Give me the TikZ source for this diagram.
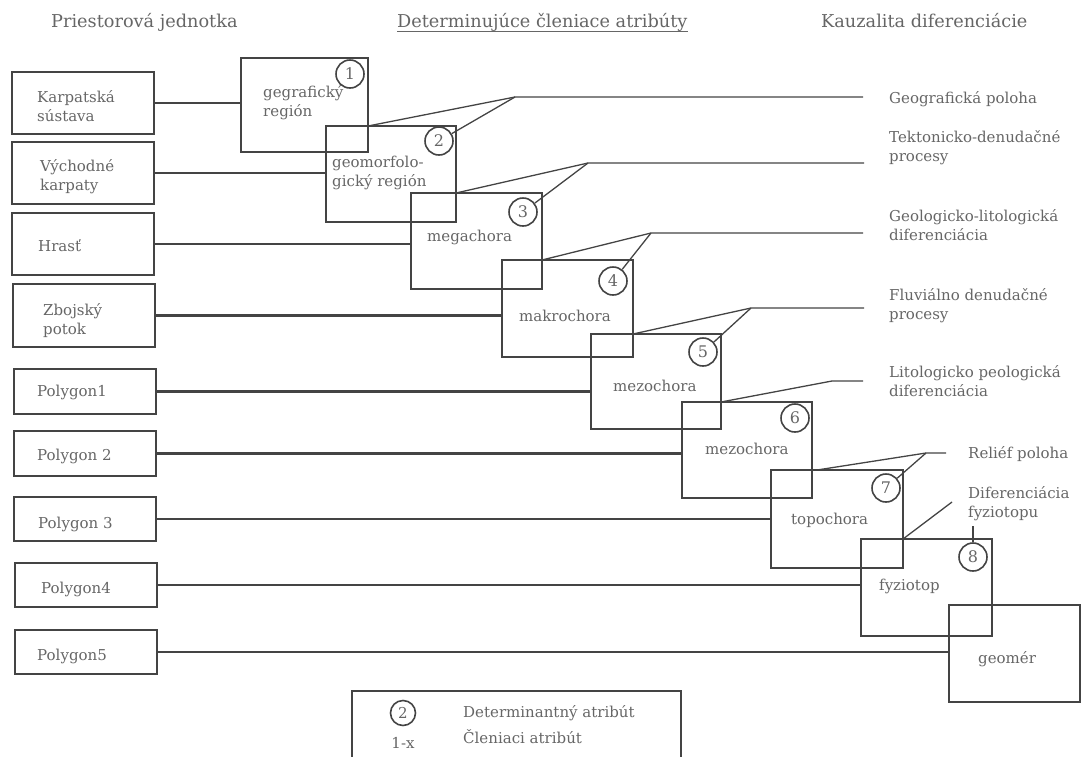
\documentclass[tikz,border=0pt]{standalone}
\usepackage{fontspec}
\setmainfont{DejaVu Serif}
\usetikzlibrary{calc}
\definecolor{ink}{HTML}{444444}
\definecolor{txt}{HTML}{666666}
\newcommand\twol[2]{\vtop{\hbox{#1}\hbox{#2}}}
\begin{document}
\begin{tikzpicture}[x=1pt,y=-1pt,
  box/.style={draw=ink,line width=2.8pt,outer sep=0pt,inner sep=0pt,anchor=north west},
  lbl/.style={text=txt,font=\fontsize{15}{19.5}\selectfont,anchor=base west,inner sep=0pt},
  hdr/.style={text=txt,font=\fontsize{17.7}{21}\selectfont,anchor=base west,inner sep=0pt},
  num/.style={draw=ink,circle,line width=1.6pt,minimum size=28pt,inner sep=0pt,text=txt,font=\fontsize{16}{16}\selectfont},
  conn/.style={draw=ink,line width=2.3pt},
  thin/.style={draw=ink,line width=1.3pt}]
\useasboundingbox (0,0) rectangle (1084,756);

% headers
\node[hdr] (h1) at (51,27) {Priestorová jednotka};
\node[hdr] (h2) at (397,27) {Determinujúce členiace atribúty};
\node[hdr] (h3) at (821,27) {Kauzalita diferenciácie};
\draw[draw=txt,line width=0.9pt] ([yshift=-4pt]h2.base west) -- ([yshift=-4pt]h2.base east);

% left boxes
\node[box,minimum width=142pt,minimum height=62pt] (L1) at (12,72) {};
\node[box,minimum width=142pt,minimum height=62pt] (L2) at (12,142) {};
\node[box,minimum width=142pt,minimum height=62pt] (L3) at (12,213) {};
\node[box,minimum width=142pt,minimum height=63pt] (L4) at (13,284) {};
\node[box,minimum width=142pt,minimum height=45pt] (L5) at (14,369) {};
\node[box,minimum width=142pt,minimum height=45pt] (L6) at (14,431) {};
\node[box,minimum width=142pt,minimum height=44pt] (L7) at (14,497) {};
\node[box,minimum width=142pt,minimum height=44pt] (L8) at (15,563) {};
\node[box,minimum width=142pt,minimum height=44pt] (L9) at (15,630) {};

\node[lbl] (l1) at (37,102) {\twol{Karpatská}{sústava}};
\node[lbl] (l2) at (40,171) {\twol{Východné}{karpaty}};
\node[lbl] (l3) at (38,251) {Hrasť};
\node[lbl] (l4) at (43,315) {\twol{Zbojský}{potok}};
\node[lbl] (l5) at (37,396) {Polygon1};
\node[lbl] (l6) at (37,460) {Polygon 2};
\node[lbl] (l7) at (38,528) {Polygon 3};
\node[lbl] (l8) at (41,593) {Polygon4};
\node[lbl] (l9) at (37,660) {Polygon5};

% middle boxes
\node[box,minimum width=127pt,minimum height=94pt] (b1) at (241,58) {};
\node[box,minimum width=130pt,minimum height=96pt] (b2) at (326,126) {};
\node[box,minimum width=131pt,minimum height=96pt] (b3) at (411,193) {};
\node[box,minimum width=131pt,minimum height=97pt] (b4) at (502,260) {};
\node[box,minimum width=130pt,minimum height=95pt] (b5) at (591,334) {};
\node[box,minimum width=130pt,minimum height=96pt] (b6) at (682,402) {};
\node[box,minimum width=132pt,minimum height=98pt] (b7) at (771,470) {};
\node[box,minimum width=131pt,minimum height=97pt] (b8) at (861,539) {};
\node[box,minimum width=131pt,minimum height=97pt] (b9) at (949,605) {};

\node[lbl] (t1) at (263,97) {\twol{gegrafický}{región}};
\node[lbl] (t2) at (332,167) {\twol{geomorfolo-}{gický región}};
\node[lbl] (t3) at (427,241) {megachora};
\node[lbl] (t4) at (519,321) {makrochora};
\node[lbl] (t5) at (613,391) {mezochora};
\node[lbl] (t6) at (705,454) {mezochora};
\node[lbl] (t7) at (791,524) {topochora};
\node[lbl] (t8) at (879,590) {fyziotop};
\node[lbl] (t9) at (978,663) {geomér};

% number circles
\node[num] (c1) at (350,74) {1};
\node[num] (c2) at (439,141) {2};
\node[num] (c3) at (523,212) {3};
\node[num] (c4) at (613,281) {4};
\node[num] (c5) at (703,352) {5};
\node[num] (c6) at (795,418) {6};
\node[num] (c7) at (886,488) {7};
\node[num] (c8) at (973,557) {8};

% connectors left -> middle
\foreach \i in {1,...,9}{
  \draw[conn] (L\i.east) -- (L\i.east -| b\i.west);
}

% right labels
\node[lbl] (r1) at (889,103) {Geografická poloha};
\node[lbl] (r2) at (889,142) {\twol{Tektonicko-denudačné}{procesy}};
\node[lbl] (r3) at (889,221) {\twol{Geologicko-litologická}{diferenciácia}};
\node[lbl] (r4) at (889,300) {\twol{Fluviálno denudačné}{procesy}};
\node[lbl] (r5) at (889,377) {\twol{Litologicko peologická}{diferenciácia}};
\node[lbl] (r6) at (968,458) {Reliéf poloha};
\node[lbl] (r7) at (968,498) {\twol{Diferenciácia}{fyziotopu}};

% junctions and line ends
\coordinate (j1) at (515,97);  \coordinate (e1) at (863,97);
\coordinate (j2) at (588,163); \coordinate (e2) at (864,163);
\coordinate (j3) at (651,233); \coordinate (e3) at (863,233);
\coordinate (j4) at (751,308); \coordinate (e4) at (864,308);
\coordinate (j5) at (832,381); \coordinate (e5) at (863,381);
\coordinate (j6) at (926,453); \coordinate (e6) at (946,453);
\coordinate (j7) at (952,502);
\coordinate (k8) at (973,526);

\draw[thin] (e1) -- (j1) -- (b1.east |- b2.north);
\draw[thin] (j1) -- (c2);
\draw[thin] (e2) -- (j2) -- (b2.east |- b3.north);
\draw[thin] (j2) -- (c3);
\draw[thin] (e3) -- (j3) -- (b3.east |- b4.north);
\draw[thin] (j3) -- (c4);
\draw[thin] (e4) -- (j4) -- (b4.east |- b5.north);
\draw[thin] (j4) -- (c5);
\draw[thin] (e5) -- (j5) -- (b5.east |- b6.north);
\draw[thin] (e6) -- (j6) -- ($(b6.east |- b7.north)+(5,0)$);
\draw[thin] (j6) -- (c7);
\draw[thin] (j7) -- (b7.east |- b8.north);
\draw[thin] (k8) -- (c8);

% legend
\node[box,minimum width=329pt,minimum height=70pt] (leg) at (352,691) {};
\node[num,minimum size=25pt,font=\fontsize{15}{15}\selectfont] (lc) at (403,713) {2};
\node[text=txt,font=\fontsize{15}{15}\selectfont,anchor=base,inner sep=0pt] (lx) at (403,748) {1-x};
\node[lbl] (lt1) at (463,717) {Determinantný atribút};
\node[lbl] (lt2) at (463,743) {Členiaci atribút};
\end{tikzpicture}
\end{document}
